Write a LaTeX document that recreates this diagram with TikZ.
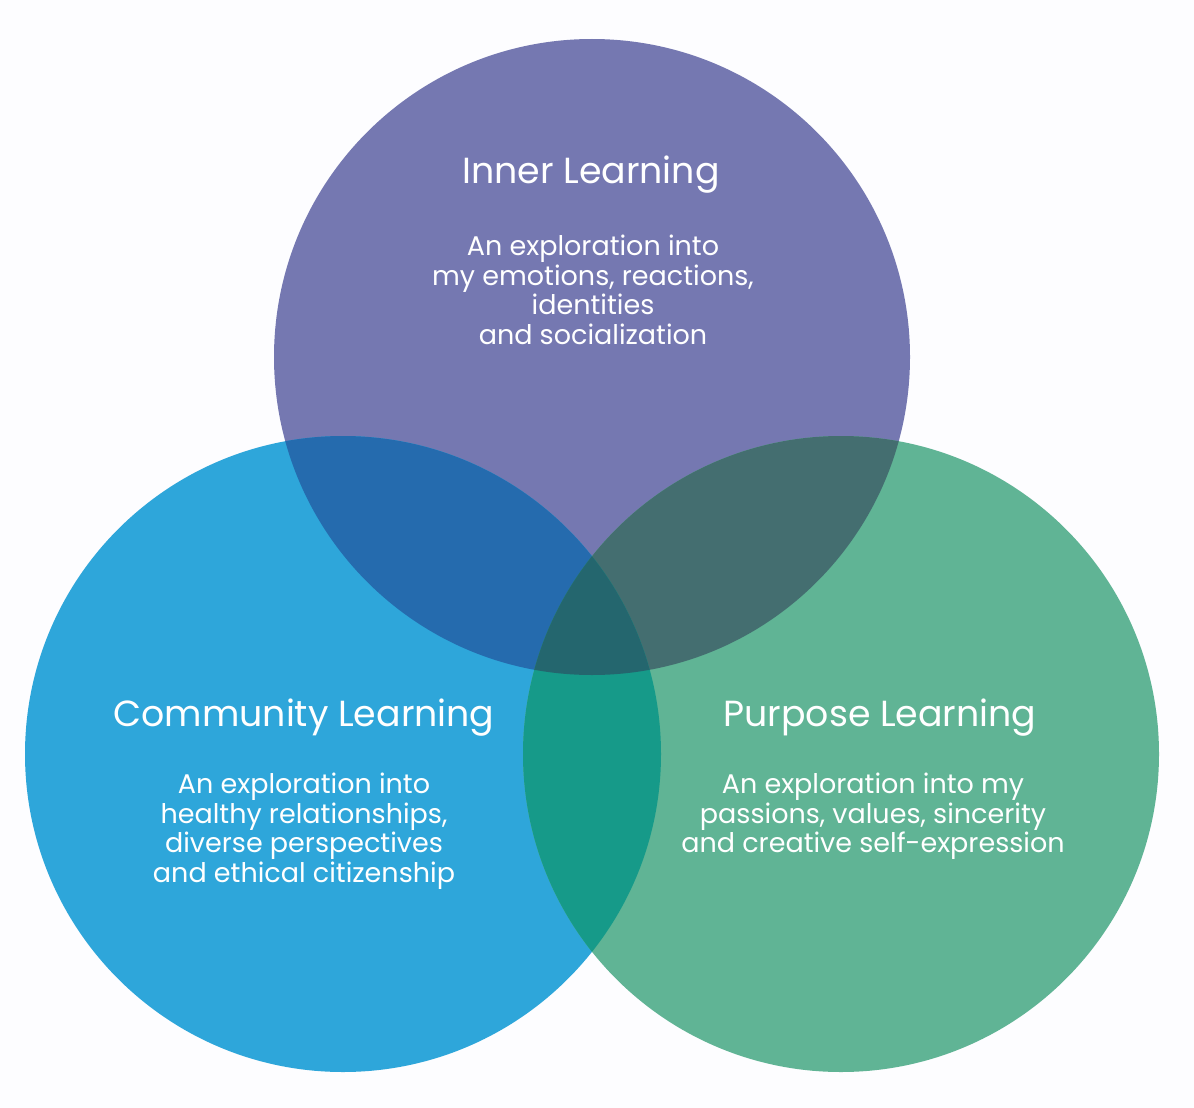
\documentclass[tikz,border=0pt]{standalone}
\usepackage{fontspec}
\setmainfont{Poppins}
\usepackage{tikz}
\usetikzlibrary{positioning}
\definecolor{innerpurple}{RGB}{117,120,177}
\definecolor{communityblue}{RGB}{46,166,218}
\definecolor{purposegreen}{RGB}{96,180,149}
\definecolor{innercommunity}{RGB}{37,107,174}
\definecolor{innerpurpose}{RGB}{68,110,112}
\definecolor{communitypurpose}{RGB}{22,154,137}
\definecolor{allthree}{RGB}{36,102,110}
\definecolor{paper}{RGB}{253,253,255}

\tikzset{
  title/.style={white,inner sep=0pt,anchor=base,font=\fontsize{36.3}{40}\selectfont},
  body/.style={white,inner sep=0pt,anchor=north,align=center,font=\fontsize{27}{29.6}\selectfont}
}

\begin{document}
\begin{tikzpicture}[x=1pt,y=-1pt]
    \fill[paper] (0,0) rectangle (1194,1108);
    \useasboundingbox (0,0) rectangle (1194,1108);

    % the three circles
    \fill[innerpurple] (592,357) circle (318);
    \fill[communityblue] (343,754) circle (318);
    \fill[purposegreen] (841,754) circle (318);

    % pairwise overlaps
    \begin{scope}
      \clip (592,357) circle (318);
      \fill[innercommunity] (343,754) circle (318);
      \fill[innerpurpose] (841,754) circle (318);
    \end{scope}
    \begin{scope}
      \clip (343,754) circle (318);
      \fill[communitypurpose] (841,754) circle (318);
    \end{scope}

    % middle
    \begin{scope}
      \clip (592,357) circle (318);
      \clip (343,754) circle (318);
      \fill[allthree] (841,754) circle (318);
    \end{scope}

    % labels
    \node[title] (innertitle) at (591,183) {Inner Learning};
    \node[body] (innertext) at (593,235) {An exploration into\\my emotions, reactions,\\identities\\and socialization};

    \node[title] (communitytitle) at (304,726) {Community Learning};
    \node[body] (communitytext) at (304,773) {An exploration into\\healthy relationships,\\diverse perspectives\\and ethical citizenship};

    \node[title] (purposetitle) at (880,726) {Purpose Learning};
    \node[body] (purposetext) at (873,773) {An exploration into my\\passions, values, sincerity\\and creative self-expression};
  \end{tikzpicture}
\end{document}
